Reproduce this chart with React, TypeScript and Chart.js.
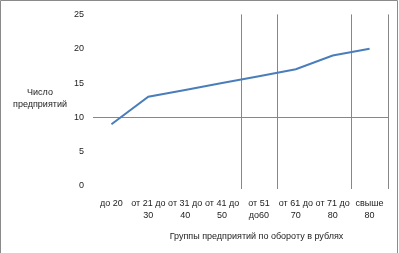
import React, { useEffect, useRef } from "react";
import { Chart, registerables } from "chart.js";

Chart.register(...registerables);

const categories: string[][] = [
  ["до 20"],
  ["от 21 до", "30"],
  ["от 31 до", "40"],
  ["от 41 до", "50"],
  ["от 51", "до60"],
  ["от 61 до", "70"],
  ["от 71 до", "80"],
  ["свыше", "80"],
];
const values: number[] = [9, 13, 14, 15, 16, 17, 19, 20];
const yTicks: number[] = [0, 5, 10, 15, 20, 25];
const horizontalGridAt: number[] = [10];
const verticalGridAfterIndex: number[] = [3, 4, 6, 7];
const xTitle = "Группы предприятий по обороту в рублях";
const yTitle: string[] = ["Число", "предприятий"];

const FONT = "'Liberation Sans', Arial, sans-serif";
const GRID = "#878787";
const TEXT = "#222";

const customPlugin = {
  id: "custom",
  beforeDatasetsDraw(chart: any) {
    const { ctx, chartArea, scales } = chart;
    const x = scales.x;
    const y = scales.y;
    ctx.save();
    ctx.strokeStyle = GRID;
    ctx.lineWidth = 1;
    horizontalGridAt.forEach((v) => {
      const py = Math.round(y.getPixelForValue(v)) + 0.5;
      ctx.beginPath();
      ctx.moveTo(chartArea.left, py);
      ctx.lineTo(chartArea.right, py);
      ctx.stroke();
    });
    verticalGridAfterIndex.forEach((i) => {
      let px: number;
      if (i >= categories.length - 1) px = chartArea.right;
      else px = (x.getPixelForValue(i) + x.getPixelForValue(i + 1)) / 2;
      px = Math.round(px) + 0.5;
      ctx.beginPath();
      ctx.moveTo(px, chartArea.top);
      ctx.lineTo(px, chartArea.bottom + 3);
      ctx.stroke();
    });
    ctx.restore();
  },
  afterDraw(chart: any) {
    const { ctx, chartArea, width, height } = chart;
    ctx.save();
    ctx.fillStyle = TEXT;
    ctx.font = `9px ${FONT}`;
    ctx.textAlign = "center";
    ctx.textBaseline = "middle";
    ctx.fillText(xTitle, (chartArea.left + chartArea.right) / 2 + 16, 237);
    yTitle.forEach((line, i) => ctx.fillText(line, 40, 93 + i * 12));
    // outer border
    ctx.strokeStyle = "#8a8a8a";
    ctx.lineWidth = 1;
    ctx.beginPath();
    ctx.moveTo(0.5, height);
    ctx.lineTo(0.5, 0.5);
    ctx.lineTo(width - 1.5, 0.5);
    ctx.lineTo(width - 1.5, height);
    ctx.stroke();
    ctx.restore();
  },
};

export default function App() {
  const ref = useRef<HTMLCanvasElement>(null);
  useEffect(() => {
    if (!ref.current) return;
    const chart = new Chart(ref.current, {
      type: "line",
      data: {
        labels: categories,
        datasets: [
          {
            data: values,
            borderColor: "#4a7ebb",
            borderWidth: 2,
            pointRadius: 0,
            tension: 0,
            fill: false,
          },
        ],
      },
      options: {
        responsive: false,
        animation: false,
        layout: { padding: { top: 10, right: 11, left: 0, bottom: 0 } },
        plugins: { legend: { display: false }, tooltip: { enabled: false } },
        scales: {
          x: {
            offset: true,
            grid: { display: false, drawTicks: false },
            border: { display: false },
            ticks: {
              color: TEXT,
              font: { family: FONT, size: 9, lineHeight: 1.3 },
              padding: 12,
              maxRotation: 0,
              autoSkip: false,
            },
            afterFit: (s: any) => {
              s.height = 67;
            },
          },
          y: {
            min: 0,
            max: 25,
            afterBuildTicks: (s: any) => {
              s.ticks = yTicks.map((v) => ({ value: v }));
            },
            grid: { display: false, drawTicks: false },
            border: { display: false },
            ticks: {
              color: TEXT,
              font: { family: FONT, size: 9 },
              padding: 9,
            },
            afterFit: (s: any) => {
              s.width = 93;
            },
          },
        },
      },
      plugins: [customPlugin],
    });
    return () => chart.destroy();
  }, []);
  return (
    <div style={{ position: "fixed", left: 0, top: 0, width: 399, height: 253, background: "#fff" }}>
      <canvas ref={ref} width={399} height={253} />
    </div>
  );
}
